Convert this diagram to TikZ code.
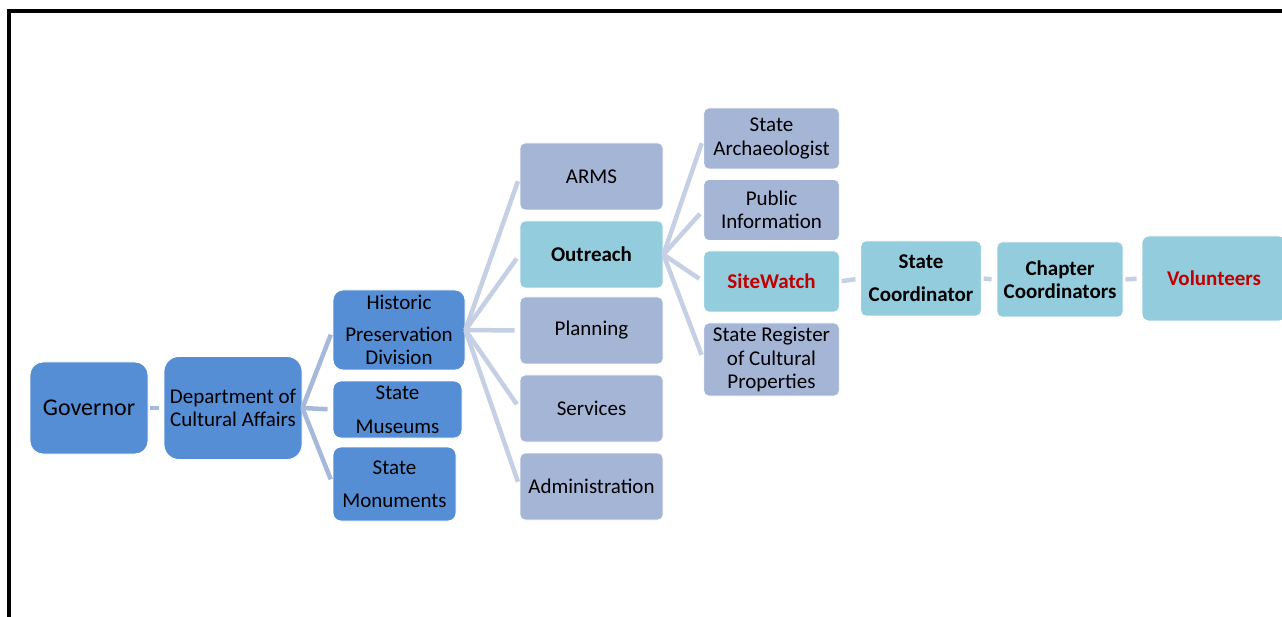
\documentclass[tikz,border=0pt]{standalone}
\usepackage{fontspec}
\setmainfont{Carlito}
\usepackage{tikz}
\usetikzlibrary{shapes, arrows, calc}
\definecolor{bleuSA}{HTML}{558ED5}
\definecolor{grisSA}{HTML}{A4B5D6}
\definecolor{turquoiseSA}{HTML}{93CDDD}
\definecolor{lienfonce}{HTML}{A6B9DD}
\definecolor{lienclair}{HTML}{C6D0E4}
\definecolor{rougeSA}{HTML}{C00000}
\tikzstyle{boite} = [
    rectangle,
    inner sep = 0pt,
    align = center,
    draw = white,
    line width = 0.8pt,
    font = \fontsize{21}{23.5}\selectfont,
]
\tikzstyle{bleu} = [boite, fill = bleuSA, rounded corners = 8pt]
\tikzstyle{gris} = [boite, fill = grisSA, rounded corners = 5pt, minimum width = 143pt, minimum height = 67pt]
\tikzstyle{grisetroit} = [boite, fill = grisSA, rounded corners = 5pt, minimum width = 135.5pt, minimum height = 61pt]
\tikzstyle{turquoise} = [boite, fill = turquoiseSA, rounded corners = 5pt]
\tikzstyle{lien} = [line width = 4.5pt, draw = lienclair, shorten <= 2pt, shorten >= 5pt]
\tikzstyle{lienbleu} = [lien, draw = lienfonce]

\begin{document}
\begin{tikzpicture} [x = 1pt, y = -1pt, node distance = 144pt]
    \useasboundingbox (0, 0) rectangle (1282, 617);
    \draw[line width = 4pt] (9, 617) -- (9, 11) -- (1282, 11);

    \node (Governor) [bleu, rounded corners = 13pt, minimum width = 118pt, minimum height = 92pt, font = \fontsize{24}{28}\selectfont] at (89, 408) {Governor};
    \node (Department) [bleu, rounded corners = 15pt, minimum width = 138pt, minimum height = 103pt, right of = Governor] {Department of\\Cultural Affairs};

    \node (Historic) [bleu, rounded corners = 10pt, minimum width = 132pt, minimum height = 80pt, right of = Department, xshift = 22pt, yshift = 78pt] {Historic\\[8.5pt]Preservation\\Division};
    \node (Museums) [bleu, minimum width = 129pt, minimum height = 57pt, right of = Department, xshift = 20.5pt, yshift = -1.5pt] {State\\[10.5pt]Museums};
    \node (Monuments) [bleu, minimum width = 123pt, minimum height = 74pt, right of = Department, xshift = 17.5pt, yshift = -76pt] {State\\[9.5pt]Monuments};

    \node (ARMS) [gris, right of = Historic, xshift = 48.5pt, yshift = 153.5pt] {ARMS};
    \node (Outreach) [turquoise, minimum width = 143pt, minimum height = 67pt, right of = Historic, xshift = 48.5pt, yshift = 75.5pt] {\textbf{Outreach}};
    \node (Planning) [gris, right of = Historic, xshift = 48.5pt, yshift = -0.5pt] {Planning};
    \node (Services) [gris, right of = Historic, xshift = 48.5pt, yshift = -78.5pt] {Services};
    \node (Administration) [gris, right of = Historic, xshift = 48.5pt, yshift = -156.5pt] {Administration};

    \node (Archaeologist) [grisetroit, right of = Outreach, xshift = 36pt, yshift = 116pt] {State\\Archaeologist};
    \node (Information) [grisetroit, right of = Outreach, xshift = 36pt, yshift = 44.5pt] {Public\\Information};
    \node (SiteWatch) [turquoise, minimum width = 135.5pt, minimum height = 61pt, right of = Outreach, xshift = 36pt, yshift = -27pt] {\textcolor{rougeSA}{\textbf{SiteWatch}}};
    \node (Register) [grisetroit, minimum height = 73pt, right of = Outreach, xshift = 36pt, yshift = -105pt] {State Register\\of Cultural\\Properties};

    \node (StateCoordinator) [turquoise, minimum width = 120.5pt, minimum height = 75pt, right of = SiteWatch, xshift = 5.5pt, yshift = 3pt] {\textbf{State}\\[9.5pt]\textbf{Coordinator}};
    \node (ChapterCoordinators) [turquoise, minimum width = 126pt, minimum height = 75pt, right of = StateCoordinator, xshift = -5pt, yshift = -1pt] {\textbf{Chapter}\\\textbf{Coordinators}};
    \node (Volunteers) [turquoise, rounded corners = 7pt, minimum width = 144pt, minimum height = 85pt, right of = ChapterCoordinators, xshift = 10pt, yshift = 1pt] {\textcolor{rougeSA}{\textbf{Volunteers}}};

    \draw[lienbleu] (Governor.east) -- (Department.west);
    \foreach \enfant in {Historic, Museums, Monuments}
        \draw[lienbleu, shorten <= 0pt] (Department.east) -- (\enfant.west);
    \foreach \enfant in {ARMS, Outreach, Planning, Services, Administration}
        \draw[lien, shorten <= 0pt] (Historic.east) -- (\enfant.west);
    \foreach \enfant in {Archaeologist, Information, SiteWatch, Register}
        \draw[lien, shorten <= 0pt] (Outreach.east) -- (\enfant.west);
    \draw[lien] (SiteWatch.east) -- (StateCoordinator.west);
    \draw[lien] (StateCoordinator.east) -- (ChapterCoordinators.west);
    \draw[lien] (ChapterCoordinators.east) -- (Volunteers.west);
\end{tikzpicture}
\end{document}
